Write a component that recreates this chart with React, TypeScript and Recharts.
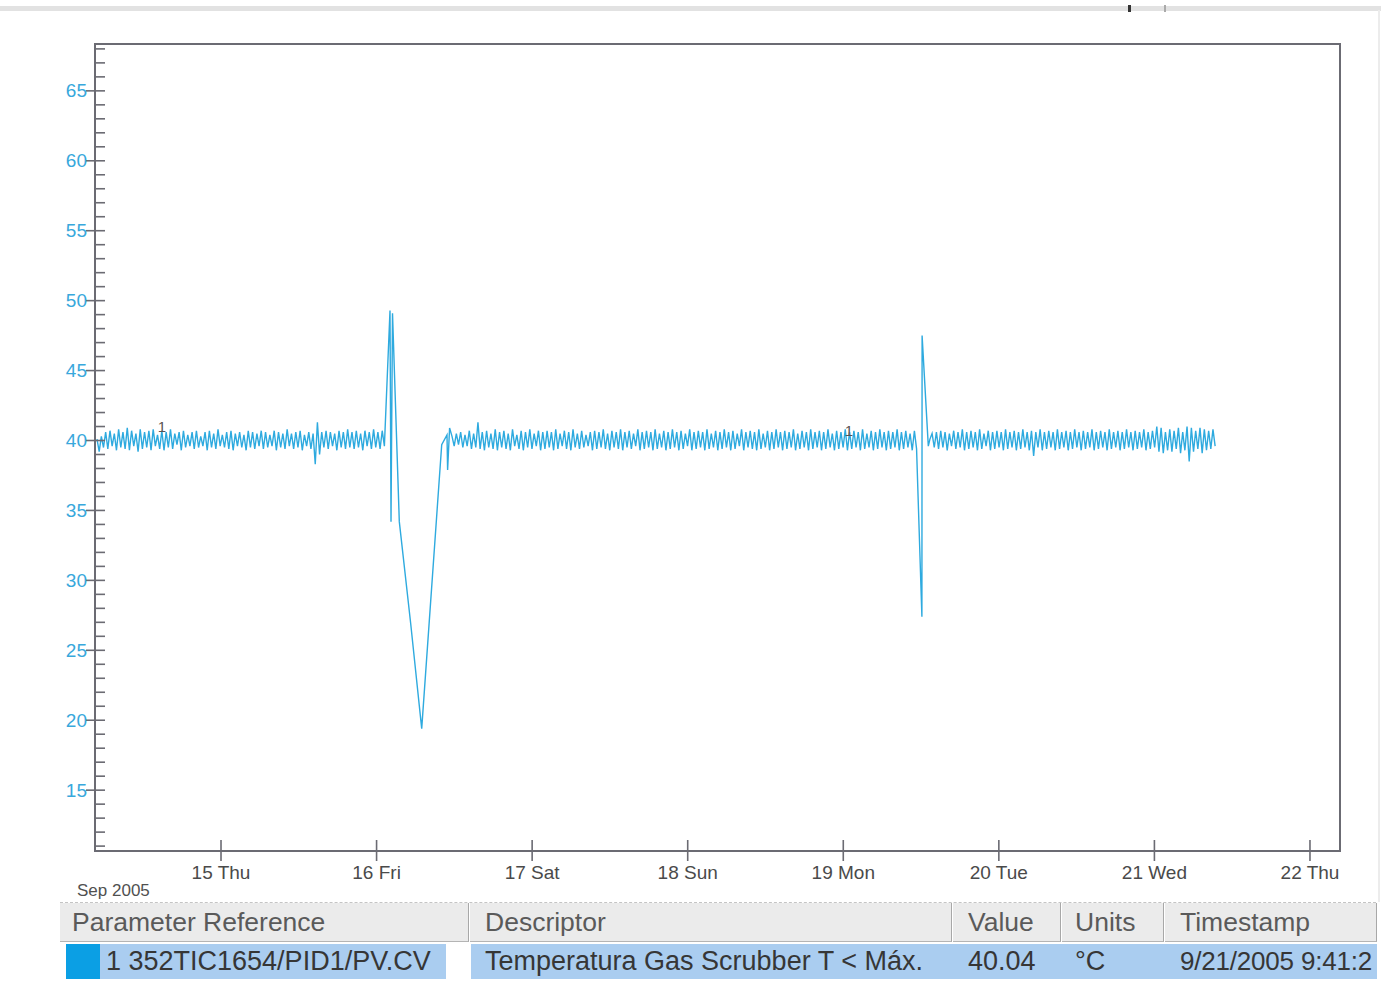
import React from 'react';
import { LineChart, Line, XAxis, YAxis, ReferenceArea, ReferenceDot } from 'recharts';

// Historian trend: 352TIC1654 gas scrubber temperature, 14–21 Sep 2005.
// Regular samples are stored every 20 minutes; upset events keep their raw timestamps.
const SAMPLE_DAYS = 1 / 72;

// Day-of-month (fractional) where each regular run starts
const runAStart = 14.203;
const runAValues = [
  40.1, 39.2, 40.3, 39.5, 40.6, 39.4, 40.7, 39.6, 40.5, 39.3,
  40.8, 39.5, 40.6, 39.4, 40.9, 39.3, 40.7, 39.6, 40.5, 39.2,
  40.8, 39.4, 40.6, 39.5, 40.7, 39.3, 40.8, 39.6, 40.4, 39.4,
  40.7, 39.3, 40.6, 39.5, 40.8, 39.4, 40.5, 39.7, 40.6, 39.3,
  40.7, 39.5, 40.4, 39.6, 40.6, 39.4, 40.7, 39.5, 40.3, 39.6,
  40.6, 39.3, 40.7, 39.5, 40.5, 39.4, 40.8, 39.6, 40.4, 39.5,
  40.6, 39.4, 40.7, 39.3, 40.5, 39.6, 40.6, 39.5, 40.4, 39.3,
  40.7, 39.5, 40.6, 39.4, 40.5, 39.6, 40.7, 39.4, 40.6, 39.5,
  40.4, 39.6, 40.7, 39.3, 40.6, 39.5, 40.5, 39.4, 40.8, 39.6,
  40.5, 39.4, 40.6, 39.5, 40.7, 39.3, 40.4, 39.6, 40.6, 39.4,
  40.5, 38.3, 41.3, 39.0, 40.6, 39.5, 40.7, 39.4, 40.6, 39.6,
  40.5, 39.3, 40.7, 39.5, 40.6, 39.4, 40.8, 39.5, 40.6, 39.4,
  40.7, 39.5, 40.5, 39.3, 40.7, 39.6, 40.6, 39.4, 40.8, 39.5,
  40.6, 39.4, 40.7, 39.6,
];

// First upset (16 Fri): overshoot then deep drop and recovery
const upset1Times = [16.0863, 16.0928, 16.1024, 16.1461, 16.2194, 16.2901, 16.4187, 16.4527, 16.4566, 16.4694];
const upset1Values = [49.3, 34.2, 49.1, 34.2, 26.9, 19.4, 39.7, 40.4, 37.9, 40.9];

const runBStart = 16.485;
const runBValues = [
  40.3, 39.6, 40.5, 39.7, 40.6, 39.5, 40.4, 39.6, 40.7, 39.4,
  40.5, 39.5, 41.3, 39.4, 40.6, 39.3, 40.7, 39.5, 40.5, 39.4,
  40.8, 39.3, 40.6, 39.5, 40.7, 39.4, 40.5, 39.3, 40.8, 39.6,
  40.4, 39.4, 40.7, 39.3, 40.6, 39.5, 40.8, 39.4, 40.5, 39.6,
  40.7, 39.3, 40.6, 39.4, 40.7, 39.5, 40.6, 39.3, 40.8, 39.4,
  40.5, 39.6, 40.7, 39.4, 40.6, 39.3, 40.8, 39.5, 40.5, 39.4,
  40.7, 39.5, 40.4, 39.6, 40.6, 39.3, 40.7, 39.4, 40.6, 39.5,
  40.8, 39.4, 40.5, 39.3, 40.7, 39.5, 40.6, 39.4, 40.8, 39.3,
  40.6, 39.5, 40.7, 39.4, 40.5, 39.6, 40.8, 39.3, 40.6, 39.4,
  40.7, 39.5, 40.6, 39.3, 40.8, 39.4, 40.5, 39.5, 40.7, 39.3,
  40.6, 39.4, 40.8, 39.5, 40.6, 39.3, 40.7, 39.4, 40.5, 39.6,
  40.8, 39.3, 40.6, 39.4, 40.7, 39.5, 40.6, 39.3, 40.8, 39.4,
  40.5, 39.5, 40.7, 39.3, 40.6, 39.4, 40.8, 39.5, 40.6, 39.3,
  40.7, 39.4, 40.5, 39.6, 40.8, 39.3, 40.6, 39.5, 40.7, 39.4,
  40.6, 39.3, 40.8, 39.4, 40.5, 39.5, 40.7, 39.3, 40.6, 39.4,
  40.8, 39.5, 40.6, 39.3, 40.7, 39.4, 40.6, 39.5, 40.8, 39.3,
  40.5, 39.4, 40.7, 39.5, 40.6, 39.3, 40.8, 39.4, 40.6, 39.5,
  40.7, 39.3, 40.6, 39.4, 40.8, 39.5, 40.5, 39.3, 40.7, 39.4,
  40.6, 39.5, 40.8, 39.3, 40.6, 39.4, 40.7, 39.5, 40.6, 39.3,
  40.8, 39.4, 40.5, 39.5, 40.7, 39.3, 40.6, 39.4, 40.8, 39.5,
  40.6, 39.3, 40.7, 39.4, 40.6, 39.5, 40.8, 39.3, 40.6, 39.4,
  40.7, 39.5, 40.5, 39.3, 40.7, 39.4,
];

// Second upset (19 Mon): short dip and overshoot
const upset2Times = [19.5054, 19.5067, 19.5466];
const upset2Values = [27.4, 47.5, 39.6];

const runCStart = 19.557;
const runCValues = [
  40.1, 40.5, 39.5, 40.6, 39.4, 40.7, 39.5, 40.6, 39.3, 40.5,
  39.6, 40.7, 39.4, 40.6, 39.5, 40.8, 39.3, 40.6, 39.4, 40.7,
  39.5, 40.6, 39.3, 40.8, 39.4, 40.5, 39.6, 40.7, 39.3, 40.6,
  39.4, 40.7, 39.5, 40.6, 39.3, 40.8, 39.4, 40.6, 39.5, 40.7,
  39.3, 40.6, 39.4, 40.8, 39.5, 40.6, 39.3, 40.7, 38.9, 40.6,
  39.5, 40.8, 39.3, 40.6, 39.4, 40.7, 39.5, 40.6, 39.3, 40.8,
  39.4, 40.6, 39.5, 40.7, 39.3, 40.6, 39.4, 40.8, 39.5, 40.6,
  39.3, 40.7, 39.4, 40.6, 39.5, 40.8, 39.3, 40.6, 39.4, 40.7,
  39.5, 40.6, 39.3, 40.8, 39.4, 40.6, 39.5, 40.7, 39.3, 40.6,
  39.4, 40.8, 39.5, 40.6, 39.3, 40.7, 39.4, 40.6, 39.5, 40.8,
  39.3, 40.6, 39.4, 40.7, 39.5, 41.0, 39.2, 40.9, 39.1, 40.6,
  39.3, 40.8, 39.2, 40.7, 39.4, 40.9, 39.1, 40.6, 39.3, 41.0,
  38.5, 40.9, 39.2, 40.7, 39.4, 40.9, 39.1, 40.8, 39.3, 40.7,
  39.4, 40.8, 39.6,
];

// Pen-number markers drawn on the trace
const penMarkTimes = [14.62, 19.037];
const penMarkValues = [40.97, 40.7];

const dayTicks = [15, 16, 17, 18, 19, 20, 21, 22];
const dayLabels = ['15 Thu', '16 Fri', '17 Sat', '18 Sun', '19 Mon', '20 Tue', '21 Wed', '22 Thu'];
const valueTicks = [11, 12, 13, 14, 15, 16, 17, 18, 19, 20, 21, 22, 23, 24, 25, 26, 27, 28, 29, 30, 31, 32, 33, 34, 35, 36, 37, 38, 39, 40, 41, 42, 43, 44, 45, 46, 47, 48, 49, 50, 51, 52, 53, 54, 55, 56, 57, 58, 59, 60, 61, 62, 63, 64, 65, 66, 67, 68];
const labelledValues = [15, 20, 25, 30, 35, 40, 45, 50, 55, 60, 65];

const headerCells = ['Parameter Reference', 'Descriptor', 'Value', 'Units', 'Timestamp'];
const rowCells = ['1 352TIC1654/PID1/PV.CV', 'Temperatura Gas Scrubber T < Máx.', '40.04', '°C', '9/21/2005 9:41:2'];

const X_DOMAIN: [number, number] = [14.19, 22.193];
const Y_DOMAIN: [number, number] = [10.65, 68.35];

const TRACE = '#2eaadf';
const AXIS = '#6b6b73';
const FONT = '"Liberation Sans", Arial, sans-serif';

type Pt = { t: number; v: number };
const fromRun = (start: number, values: number[]): Pt[] =>
  values.map((v, i) => ({ t: start + i * SAMPLE_DAYS, v }));
const fromPairs = (times: number[], values: number[]): Pt[] =>
  times.map((t, i) => ({ t, v: values[i] }));

const trend: Pt[] = [
  ...fromRun(runAStart, runAValues),
  ...fromPairs(upset1Times, upset1Values),
  ...fromRun(runBStart, runBValues),
  ...fromPairs(upset2Times, upset2Values),
  ...fromRun(runCStart, runCValues),
];

const YTick = (props: any) => {
  const { x, y, payload } = props;
  const major = labelledValues.includes(payload.value);
  return (
    <g>
      <line x1={major ? x - 9 : x} x2={x + 10} y1={y} y2={y} stroke={AXIS} strokeWidth={1.6} />
      {major && (
        <text x={x - 8} y={y} dy={6.5} textAnchor="end" fill="#38a8dc" fontSize={19} fontFamily={FONT}>
          {payload.value}
        </text>
      )}
    </g>
  );
};

const XTick = (props: any) => {
  const { x, y, payload } = props;
  const idx = dayTicks.indexOf(payload.value);
  return (
    <g>
      <line x1={x} x2={x} y1={y - 11} y2={y + 10} stroke={AXIS} strokeWidth={1.6} />
      <text x={x} y={y + 28} textAnchor="middle" fill="#4a4a4a" fontSize={19} fontFamily={FONT}>
        {dayLabels[idx]}
      </text>
    </g>
  );
};

const PenMark = (props: any) => (
  <text x={props.cx} y={props.cy} dy={5} textAnchor="middle" fill="#5a5252" fontSize={15} fontFamily={FONT}>
    1
  </text>
);

const headerLeft = [60, 470, 953, 1062, 1165];
const headerRight = [468, 951, 1060, 1163, 1376];
const textLeft = [72, 485, 968, 1075, 1180];

export default function App() {
  return (
    <div
      style={{
        position: 'absolute',
        left: 0,
        top: 0,
        width: 1381,
        height: 982,
        overflow: 'hidden',
        background: '#ffffff',
        fontFamily: FONT,
      }}
    >
      {/* window edge strips */}
      <div style={{ position: 'absolute', left: 0, top: 6, width: 1381, height: 5, background: '#e2e2e2' }} />
      <div style={{ position: 'absolute', left: 1128, top: 5, width: 3, height: 7, background: '#333' }} />
      <div style={{ position: 'absolute', left: 1164, top: 5, width: 2, height: 7, background: '#aaa' }} />
      <div style={{ position: 'absolute', left: 1378, top: 10, width: 2, height: 892, background: '#ececec' }} />

      <div style={{ position: 'absolute', left: 0, top: 0 }}>
        <LineChart width={1381} height={900} data={trend} margin={{ top: 44, right: 41, left: 0, bottom: 0 }}>
          <XAxis
            type="number"
            dataKey="t"
            domain={X_DOMAIN}
            allowDataOverflow
            ticks={dayTicks}
            interval={0}
            height={49}
            tickSize={0}
            tickMargin={0}
            axisLine={false}
            tickLine={false}
            tick={<XTick />}
          />
          <YAxis
            type="number"
            dataKey="v"
            domain={Y_DOMAIN}
            allowDataOverflow
            ticks={valueTicks}
            interval={0}
            width={95}
            tickSize={0}
            tickMargin={0}
            axisLine={false}
            tickLine={false}
            tick={<YTick />}
          />
          <ReferenceArea
            x1={X_DOMAIN[0]}
            x2={X_DOMAIN[1]}
            y1={Y_DOMAIN[0]}
            y2={Y_DOMAIN[1]}
            fill="none"
            fillOpacity={0}
            stroke={AXIS}
            strokeWidth={2}
          />
          <Line
            type="linear"
            dataKey="v"
            stroke={TRACE}
            strokeWidth={1.4}
            dot={false}
            activeDot={false}
            isAnimationActive={false}
          />
          {penMarkTimes.map((t, i) => (
            <ReferenceDot key={i} x={t} y={penMarkValues[i]} r={1} shape={<PenMark />} />
          ))}
        </LineChart>
      </div>

      <div style={{ position: 'absolute', left: 77, top: 880, fontSize: 17, color: '#505050', lineHeight: '22px' }}>
        Sep 2005
      </div>

      {/* legend table */}
      <div style={{ position: 'absolute', left: 60, top: 902, width: 1316, height: 0, borderTop: '1px dashed #c4c4c4' }} />
      {headerCells.map((h, i) => (
        <div
          key={h}
          style={{
            position: 'absolute',
            left: headerLeft[i],
            top: 903,
            width: headerRight[i] - headerLeft[i],
            height: 38,
            background: '#ebebeb',
            borderRight: '1px solid #a8a8a8',
            borderBottom: '1px solid #b4b4b4',
          }}
        />
      ))}
      {headerCells.map((h, i) => (
        <div
          key={'t' + h}
          style={{
            position: 'absolute',
            left: textLeft[i],
            top: 903,
            height: 39,
            lineHeight: '39px',
            fontSize: 26.5,
            color: '#5a5a5a',
            whiteSpace: 'nowrap',
          }}
        >
          {h}
        </div>
      ))}

      <div style={{ position: 'absolute', left: 66, top: 944, width: 380, height: 35, background: '#aacdf0' }} />
      <div style={{ position: 'absolute', left: 66, top: 944, width: 34, height: 35, background: '#0b9fe4' }} />
      <div style={{ position: 'absolute', left: 471, top: 944, width: 906, height: 35, background: '#aacdf0' }} />
      {rowCells.map((c, i) => (
        <div
          key={'r' + i}
          style={{
            position: 'absolute',
            left: i === 0 ? 106 : textLeft[i],
            top: 944,
            height: 35,
            lineHeight: '35px',
            fontSize: i === 4 ? 26 : 27,
            letterSpacing: i === 4 ? -0.2 : 0,
            color: '#363636',
            whiteSpace: 'nowrap',
          }}
        >
          {c}
        </div>
      ))}
    </div>
  );
}
